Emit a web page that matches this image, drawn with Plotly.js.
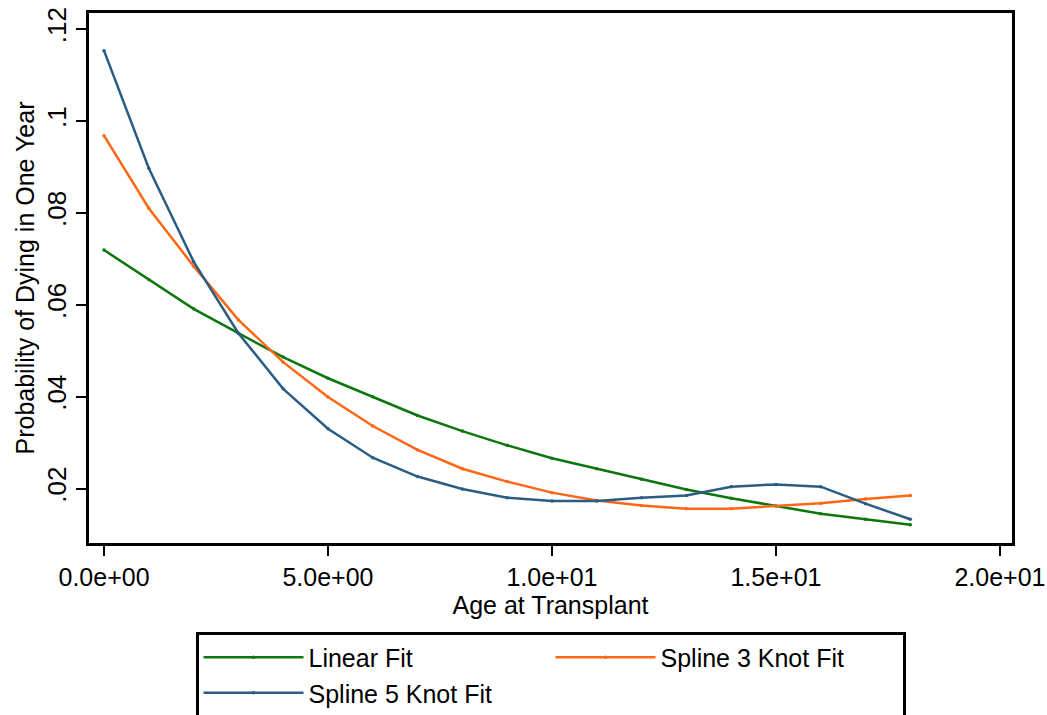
<!DOCTYPE html>
<html>
<head>
<meta charset="utf-8">
<script src="https://cdn.plot.ly/plotly-3.0.1.min.js"></script>
<style>html,body{margin:0;padding:0;background:#fff;}#chart{width:1047px;height:715px;}</style>
</head>
<body>
<div id="chart"></div>
<script>
var age = [0,1,2,3,4,5,6,7,8,9,10,11,12,13,14,15,16,17,18];
var linearFit = [0.0719,0.0655,0.0591,0.0538,0.0486,0.0440,0.0400,0.0359,0.0325,0.0294,0.0266,0.0243,0.0220,0.0198,0.0179,0.0162,0.0145,0.0133,0.0121];
var spline3Fit = [0.0968,0.0810,0.0684,0.0567,0.0475,0.0399,0.0336,0.0284,0.0243,0.0215,0.0191,0.0174,0.0163,0.0156,0.0156,0.0162,0.0168,0.0177,0.0185];
var spline5Fit = [0.1153,0.0897,0.0694,0.0538,0.0417,0.0330,0.0267,0.0226,0.0199,0.0180,0.0173,0.0173,0.0180,0.0185,0.0204,0.0209,0.0204,0.0167,0.0133];
var xTickVals = [0,5,10,15,20];
var xTickText = ["0.0e+00","5.0e+00","1.0e+01","1.5e+01","2.0e+01"];
var yTickVals = [0.02,0.04,0.06,0.08,0.10,0.12];
var yTickText = [".02",".04",".06",".08",".1",".12"];

var FONT = "Liberation Sans, Arial, Helvetica, sans-serif";
function tr(name, y, color){
  return {x: age, y: y, name: name, type: 'scatter', mode: 'lines+markers',
    line: {color: color, width: 2.5}, marker: {color: color, size: 3.5}};
}
var data = [
  tr('Linear Fit', linearFit, '#0d760d'),
  tr('Spline 3 Knot Fit', spline3Fit, '#ff6714'),
  tr('Spline 5 Knot Fit', spline5Fit, '#2b5d84')
];
var layout = {
  width: 1047, height: 715,
  margin: {l: 89, r: 35, t: 13, b: 172, autoexpand: false},
  paper_bgcolor: '#fff', plot_bgcolor: '#fff',
  font: {family: FONT, size: 25, color: '#000'},
  showlegend: true,
  xaxis: {range: [-0.335, 20.27], tickvals: xTickVals, ticktext: xTickText,
    showgrid: false, zeroline: false, showline: true, mirror: true, linecolor: '#000', linewidth: 3,
    ticks: 'outside', ticklen: 10, tickwidth: 2, tickcolor: '#000',
    tickfont: {size: 25},
    title: {text: 'Age at Transplant', font: {size: 25}, standoff: 0}},
  yaxis: {range: [0.00814, 0.1235], tickvals: yTickVals, ticktext: yTickText, tickangle: -90,
    showgrid: false, zeroline: false, showline: true, mirror: true, linecolor: '#000', linewidth: 3,
    ticks: 'outside', ticklen: 10, tickwidth: 2, tickcolor: '#000',
    tickfont: {size: 26},
    title: {text: 'Probability of Dying in One Year', font: {size: 25}, standoff: 0}},
  legend: {orientation: 'h', x: 0.5, xanchor: 'center', y: -0.167, yanchor: 'top',
    bgcolor: '#fff', bordercolor: '#000', borderwidth: 3,
    itemwidth: 100, entrywidth: 237, entrywidthmode: 'pixels',
    traceorder: 'normal', font: {size: 25}}
};
Plotly.newPlot('chart', data, layout, {displayModeBar: false, staticPlot: true});
</script>
</body>
</html>
